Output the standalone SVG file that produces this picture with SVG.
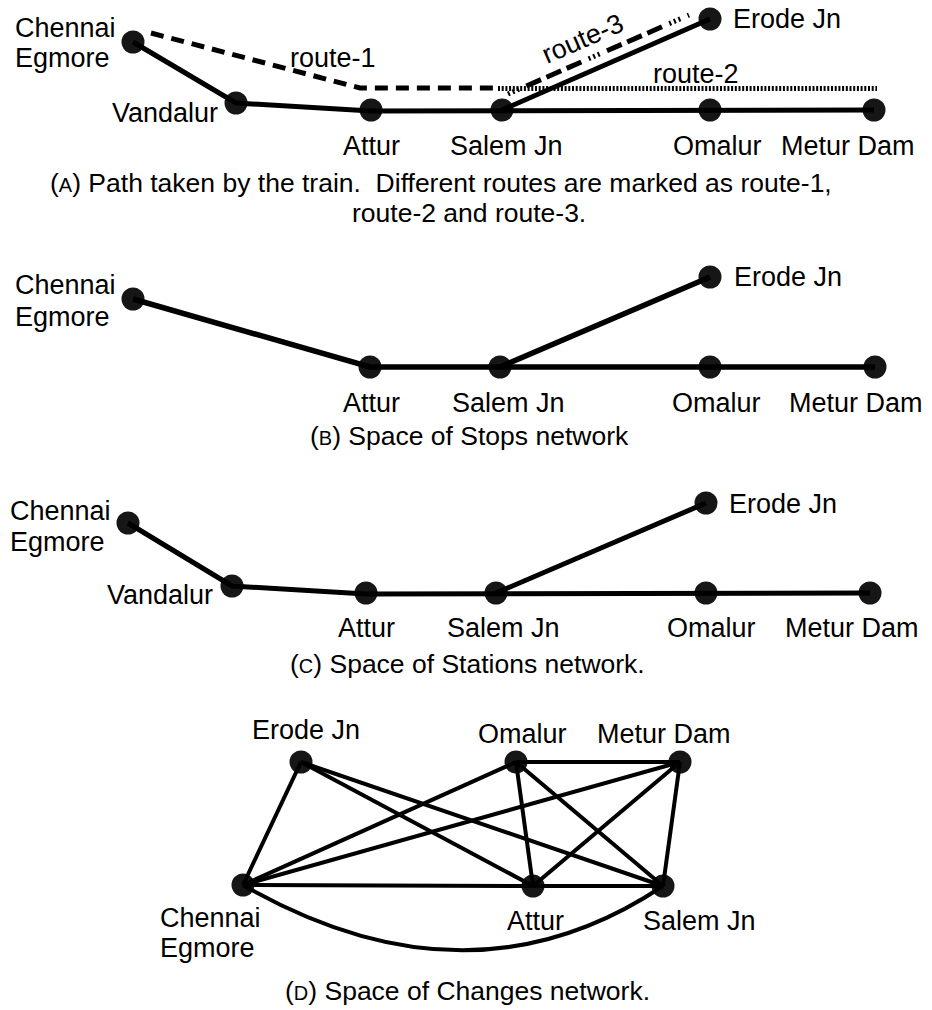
<svg xmlns="http://www.w3.org/2000/svg" width="932" height="1010" viewBox="0 0 932 1010">
  <style>
    text { font-family: "Liberation Sans", Arial, sans-serif; fill: #000; }
    .lbl { font-size: 27px; }
    .cap { font-size: 26.5px; }
    .sc { font-size: 20px; }
    .node { fill: #161616; }
    .edge { stroke: #000; fill: none; stroke-width: 5; }
    .thick { stroke-width: 5.5; }
    .thin { stroke-width: 4; }
    .r1 { stroke-dasharray: 13 8; }
    .r2 { stroke-dasharray: 2 1.7; }
    .r3 { stroke-dasharray: 2 3 2 3 2 8 16 6 16 6 16 8; }
  </style>

  <!-- (A) path taken by the train -->
  <g id="panel-a">
    <g id="a-chennai-egmore"><circle class="node" cx="133" cy="42" r="11.5"/><text class="lbl" x="15" y="37">Chennai</text><text class="lbl" x="15" y="67">Egmore</text></g>
    <g id="a-vandalur"><circle class="node" cx="236" cy="103" r="11.5"/><text class="lbl" x="112" y="122">Vandalur</text></g>
    <g id="a-attur"><circle class="node" cx="371" cy="110" r="11.5"/><text class="lbl" x="343" y="155">Attur</text></g>
    <g id="a-salem-jn"><circle class="node" cx="502" cy="110" r="11.5"/><text class="lbl" x="450" y="155">Salem Jn</text></g>
    <g id="a-omalur"><circle class="node" cx="710" cy="110" r="11.5"/><text class="lbl" x="673" y="155">Omalur</text></g>
    <g id="a-metur-dam"><circle class="node" cx="874" cy="110" r="11.5"/><text class="lbl" x="781" y="155">Metur Dam</text></g>
    <g id="a-erode-jn"><circle class="node" cx="710" cy="19" r="11.5"/><text class="lbl" x="733" y="28">Erode Jn</text></g>
    <g id="a-connectors">
      <polyline class="edge" points="133,42 236,103 371,111 874,110"/>
      <line class="edge" x1="502" y1="110" x2="710" y2="19"/>
      <polyline class="edge r1" points="151,33 360,88 494,88"/>
      <line class="edge r2" x1="498" y1="88.5" x2="877" y2="88.5"/>
      <line class="edge r3" x1="508" y1="94" x2="689" y2="15"/>
    </g>
    <g id="a-route-labels">
      <text class="lbl" x="290" y="67">route-1</text>
      <text class="lbl" x="653" y="83">route-2</text>
      <text class="lbl" transform="translate(547 64) rotate(-23.5)">route-3</text>
    </g>
    <text class="cap" x="50" y="192" xml:space="preserve">(<tspan class="sc">A</tspan>) Path taken by the train.  Different routes are marked as route-1,</text>
    <text class="cap" x="352" y="222">route-2 and route-3.</text>
  </g>

  <!-- (B) space of stops -->
  <g id="panel-b">
    <g id="b-chennai-egmore"><circle class="node" cx="133" cy="299" r="11.5"/><text class="lbl" x="15" y="294">Chennai</text><text class="lbl" x="15" y="326">Egmore</text></g>
    <g id="b-attur"><circle class="node" cx="370" cy="367" r="11.5"/><text class="lbl" x="343" y="412">Attur</text></g>
    <g id="b-salem-jn"><circle class="node" cx="500" cy="367" r="11.5"/><text class="lbl" x="452" y="412">Salem Jn</text></g>
    <g id="b-omalur"><circle class="node" cx="710" cy="367" r="11.5"/><text class="lbl" x="672" y="412">Omalur</text></g>
    <g id="b-metur-dam"><circle class="node" cx="875" cy="367" r="11.5"/><text class="lbl" x="789" y="412">Metur Dam</text></g>
    <g id="b-erode-jn"><circle class="node" cx="710" cy="277" r="11.5"/><text class="lbl" x="734" y="286">Erode Jn</text></g>
    <g id="b-connectors">
      <polyline class="edge thick" points="133,299 370,367 875,367"/>
      <line class="edge thick" x1="500" y1="367" x2="710" y2="277"/>
    </g>
    <text class="cap" x="310" y="445">(<tspan class="sc">B</tspan>) Space of Stops network</text>
  </g>

  <!-- (C) space of stations -->
  <g id="panel-c">
    <g id="c-chennai-egmore"><circle class="node" cx="128" cy="523" r="11.5"/><text class="lbl" x="10" y="520">Chennai</text><text class="lbl" x="10" y="551">Egmore</text></g>
    <g id="c-vandalur"><circle class="node" cx="232" cy="586" r="11.5"/><text class="lbl" x="107" y="604">Vandalur</text></g>
    <g id="c-attur"><circle class="node" cx="366" cy="593" r="11.5"/><text class="lbl" x="338" y="637">Attur</text></g>
    <g id="c-salem-jn"><circle class="node" cx="496" cy="593" r="11.5"/><text class="lbl" x="447" y="637">Salem Jn</text></g>
    <g id="c-omalur"><circle class="node" cx="706" cy="593" r="11.5"/><text class="lbl" x="667" y="637">Omalur</text></g>
    <g id="c-metur-dam"><circle class="node" cx="870" cy="593" r="11.5"/><text class="lbl" x="785" y="637">Metur Dam</text></g>
    <g id="c-erode-jn"><circle class="node" cx="706" cy="503" r="11.5"/><text class="lbl" x="729" y="513">Erode Jn</text></g>
    <g id="c-connectors">
      <polyline class="edge" points="128,523 232,586 366,594 870,593"/>
      <line class="edge" x1="496" y1="593" x2="706" y2="503"/>
    </g>
    <text class="cap" x="290" y="673">(<tspan class="sc">C</tspan>) Space of Stations network.</text>
  </g>

  <!-- (D) space of changes -->
  <g id="panel-d">
    <g id="d-erode-jn"><circle class="node" cx="301" cy="762" r="11.5"/><text class="lbl" x="252" y="739">Erode Jn</text></g>
    <g id="d-omalur"><circle class="node" cx="516" cy="762" r="11.5"/><text class="lbl" x="478" y="743">Omalur</text></g>
    <g id="d-metur-dam"><circle class="node" cx="680" cy="762" r="11.5"/><text class="lbl" x="597" y="743">Metur Dam</text></g>
    <g id="d-chennai-egmore"><circle class="node" cx="243" cy="885" r="11.5"/><text class="lbl" x="160" y="927">Chennai</text><text class="lbl" x="160" y="957">Egmore</text></g>
    <g id="d-attur"><circle class="node" cx="533" cy="886" r="11.5"/><text class="lbl" x="507" y="930">Attur</text></g>
    <g id="d-salem-jn"><circle class="node" cx="663" cy="886" r="11.5"/><text class="lbl" x="643" y="930">Salem Jn</text></g>
    <g id="d-connectors">
      <line class="edge thin" x1="301" y1="762" x2="243" y2="885"/>
      <line class="edge thin" x1="301" y1="762" x2="533" y2="886"/>
      <line class="edge thin" x1="301" y1="762" x2="663" y2="886"/>
      <line class="edge thin" x1="516" y1="762" x2="680" y2="762"/>
      <line class="edge thin" x1="516" y1="762" x2="243" y2="885"/>
      <line class="edge thin" x1="516" y1="762" x2="533" y2="886"/>
      <line class="edge thin" x1="516" y1="762" x2="663" y2="886"/>
      <line class="edge thin" x1="680" y1="762" x2="243" y2="885"/>
      <line class="edge thin" x1="680" y1="762" x2="533" y2="886"/>
      <line class="edge thin" x1="680" y1="762" x2="663" y2="886"/>
      <line class="edge thin" x1="243" y1="885" x2="533" y2="886"/>
      <line class="edge thin" x1="533" y1="886" x2="663" y2="886"/>
      <path class="edge thin" d="M243,885 Q470,1015 663,886"/>
    </g>
    <text class="cap" x="285" y="1000">(<tspan class="sc">D</tspan>) Space of Changes network.</text>
  </g>
</svg>
